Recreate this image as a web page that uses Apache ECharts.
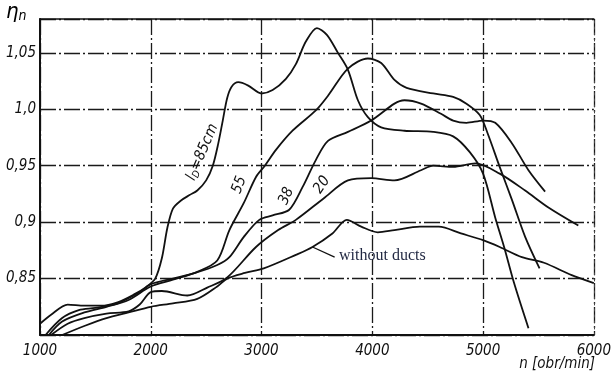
<!DOCTYPE html>
<html>
<head>
<meta charset="utf-8">
<script src="https://cdn.jsdelivr.net/npm/echarts@6/dist/echarts.min.js"></script>
<style>
html, body { margin: 0; padding: 0; background: #fff; }
#main { width: 614px; height: 374px; }
</style>
</head>
<body>
<div id="main"></div>
<script>
// tick labels
var xTicks = [1000, 2000, 3000, 4000, 5000, 6000];
var yTicks = [0.85, 0.9, 0.95, 1.0, 1.05];
var yTickLabels = ['0,85', '0,9', '0,95', '1,0', '1,05'];

// curves: [n obr/min, eta_n]
var curve85 = [[1000,0.810],[1100,0.818],[1250,0.827],[1400,0.826],[1550,0.826],[1700,0.829],[1850,0.836],[1950,0.842],[2040,0.850],[2100,0.868],[2150,0.895],[2200,0.912],[2270,0.919],[2350,0.924],[2420,0.928],[2500,0.937],[2560,0.950],[2610,0.970],[2650,0.990],[2690,1.010],[2730,1.020],[2790,1.024],[2880,1.021],[3000,1.014],[3100,1.017],[3220,1.027],[3310,1.040],[3400,1.060],[3500,1.072],[3590,1.066],[3690,1.050],[3780,1.035],[3870,1.008],[3960,0.993],[4080,0.984],[4290,0.981],[4550,0.980],[4730,0.976],[4880,0.962],[5000,0.943],[5110,0.904],[5190,0.878],[5280,0.846],[5410,0.806]];
var curve55 = [[1080,0.800],[1200,0.812],[1400,0.820],[1600,0.825],[1800,0.831],[2000,0.843],[2200,0.849],[2420,0.856],[2600,0.866],[2710,0.893],[2840,0.917],[2950,0.940],[3030,0.950],[3130,0.964],[3280,0.981],[3490,0.999],[3600,1.012],[3780,1.036],[3960,1.045],[4080,1.041],[4200,1.026],[4310,1.019],[4550,1.014],[4730,1.011],[4850,1.005],[4970,0.995],[5040,0.979],[5150,0.949],[5260,0.920],[5380,0.887],[5510,0.859]];
var curve38 = [[1050,0.800],[1200,0.815],[1350,0.822],[1500,0.824],[1700,0.828],[1900,0.838],[2000,0.845],[2200,0.850],[2400,0.855],[2600,0.862],[2710,0.869],[2840,0.887],[2980,0.902],[3100,0.906],[3250,0.911],[3370,0.931],[3490,0.955],[3600,0.972],[3780,0.980],[3990,0.990],[4200,1.005],[4290,1.008],[4440,1.005],[4620,0.996],[4730,0.990],[4850,0.988],[5000,0.990],[5110,0.988],[5260,0.970],[5410,0.946],[5560,0.927]];
var curve20 = [[1100,0.800],[1250,0.810],[1400,0.815],[1600,0.819],[1800,0.821],[1900,0.827],[2000,0.838],[2100,0.839],[2330,0.835],[2510,0.842],[2690,0.851],[2950,0.878],[3150,0.893],[3310,0.902],[3560,0.921],[3780,0.937],[3990,0.939],[4200,0.937],[4440,0.946],[4550,0.950],[4730,0.949],[4930,0.952],[5150,0.943],[5380,0.928],[5590,0.913],[5860,0.897]];
var curveNoDucts = [[1200,0.800],[1400,0.808],[1600,0.815],[1800,0.820],[2000,0.825],[2200,0.828],[2420,0.832],[2600,0.843],[2690,0.850],[2850,0.855],[3020,0.859],[3310,0.871],[3460,0.878],[3640,0.890],[3770,0.902],[3900,0.896],[4050,0.891],[4200,0.893],[4430,0.896],[4600,0.896],[4800,0.890],[5000,0.884],[5150,0.878],[5350,0.869],[5550,0.864],[5800,0.853],[6000,0.846]];
var noDuctsPointer = [[3460,0.878],[3660,0.869]];

var curveLabels = ['{a|l}{b|D}{a|=85cm}', '55', '38', '20'];
var noDuctsLabel = 'without ducts';

var chart = echarts.init(document.getElementById('main'));

var ital = 'DejaVu Sans Condensed';
var gridDash = [16, 3, 2, 3];

function lineSeries(data) {
    return {
        type: 'line',
        data: data,
        smooth: 0.3,
        symbol: 'none',
        silent: true,
        lineStyle: { color: '#111', width: 1.8 }
    };
}

var option = {
    backgroundColor: '#fff',
    animation: false,
    grid: { left: 40, right: 11, top: 19, bottom: 39 },
    xAxis: [{
        type: 'value',
        min: 1000, max: 6000, interval: 1000,
        axisLine: { lineStyle: { color: '#111', width: 2 } },
        axisTick: { show: false },
        axisLabel: {
            margin: 9,
            color: '#111',
            fontFamily: ital,
            fontStyle: 'italic',
            fontSize: 15,
            formatter: function (v) { return xTicks.indexOf(v) >= 0 ? String(v) : ''; }
        },
        splitLine: { show: true, lineStyle: { color: '#1a1a1a', width: 1.3, type: gridDash } }
    }, {
        type: 'value',
        position: 'top',
        min: 1000, max: 6000,
        axisLine: { show: true, lineStyle: { color: '#111', width: 1.6 } },
        axisTick: { show: false },
        axisLabel: { show: false },
        splitLine: { show: false }
    }],
    yAxis: [{
        type: 'value',
        min: 0.8, max: 1.08, interval: 0.05,
        axisLine: { show: true, lineStyle: { color: '#111', width: 2 } },
        axisTick: { show: false },
        axisLabel: {
            margin: 4,
            color: '#111',
            fontFamily: ital,
            fontStyle: 'italic',
            fontSize: 15,
            formatter: function (v) {
                for (var i = 0; i < yTicks.length; i++) {
                    if (Math.abs(yTicks[i] - v) < 1e-6) return yTickLabels[i];
                }
                return '';
            }
        },
        splitLine: { show: true, lineStyle: { color: '#1a1a1a', width: 1.4, type: gridDash } }
    }, {
        type: 'value',
        position: 'right',
        min: 0.8, max: 1.08,
        axisLine: { show: true, lineStyle: { color: '#444', width: 1, type: [2, 4] } },
        axisTick: { show: false },
        axisLabel: { show: false },
        splitLine: { show: false }
    }],
    series: [
        lineSeries(curve85),
        lineSeries(curve55),
        lineSeries(curve38),
        lineSeries(curve20),
        lineSeries(curveNoDucts),
        {
            type: 'line',
            data: noDuctsPointer,
            symbol: 'none',
            silent: true,
            lineStyle: { color: '#111', width: 1.3 }
        }
    ]
};

chart.setOption(option);

function at(x, y) {
    return chart.convertToPixel({ xAxisIndex: 0, yAxisIndex: 0 }, [x, y]);
}

var richLabel = {
    a: { fontFamily: ital, fontStyle: 'italic', fontSize: 15, color: '#111' },
    b: { fontFamily: ital, fontStyle: 'italic', fontSize: 10, color: '#111', padding: [7, 0, 0, 0] }
};

function curveText(txt, x, y, deg) {
    var p = at(x, y);
    return {
        type: 'text',
        x: p[0], y: p[1],
        rotation: deg * Math.PI / 180,
        style: {
            text: txt,
            rich: richLabel,
            font: 'italic 15px "' + ital + '"',
            fill: '#111',
            align: 'center',
            verticalAlign: 'middle'
        }
    };
}

var pLabel = at(3700, 0.8705);

chart.setOption({
    graphic: [
        curveText(curveLabels[0], 2465, 0.962, 67),
        curveText(curveLabels[1], 2800, 0.933, 70),
        curveText(curveLabels[2], 3225, 0.923, 66),
        curveText(curveLabels[3], 3545, 0.933, 56),
        {
            type: 'text',
            x: pLabel[0], y: pLabel[1],
            style: {
                text: noDuctsLabel,
                font: '16px "Liberation Serif"',
                fill: '#1f2640',
                align: 'left',
                verticalAlign: 'middle'
            }
        },
        {
            type: 'text',
            left: 6, top: 1,
            style: {
                text: '{a|η}{b|n}',
                rich: {
                    a: { fontFamily: ital, fontStyle: 'italic', fontSize: 22, color: '#111' },
                    b: { fontFamily: ital, fontStyle: 'italic', fontSize: 14, color: '#111', padding: [9, 0, 0, 0] }
                }
            }
        },
        {
            type: 'text',
            right: 19, top: 357,
            style: {
                text: 'n [obr/min]',
                font: 'italic 15px "' + ital + '"',
                fill: '#111'
            }
        }
    ]
});
</script>
</body>
</html>
